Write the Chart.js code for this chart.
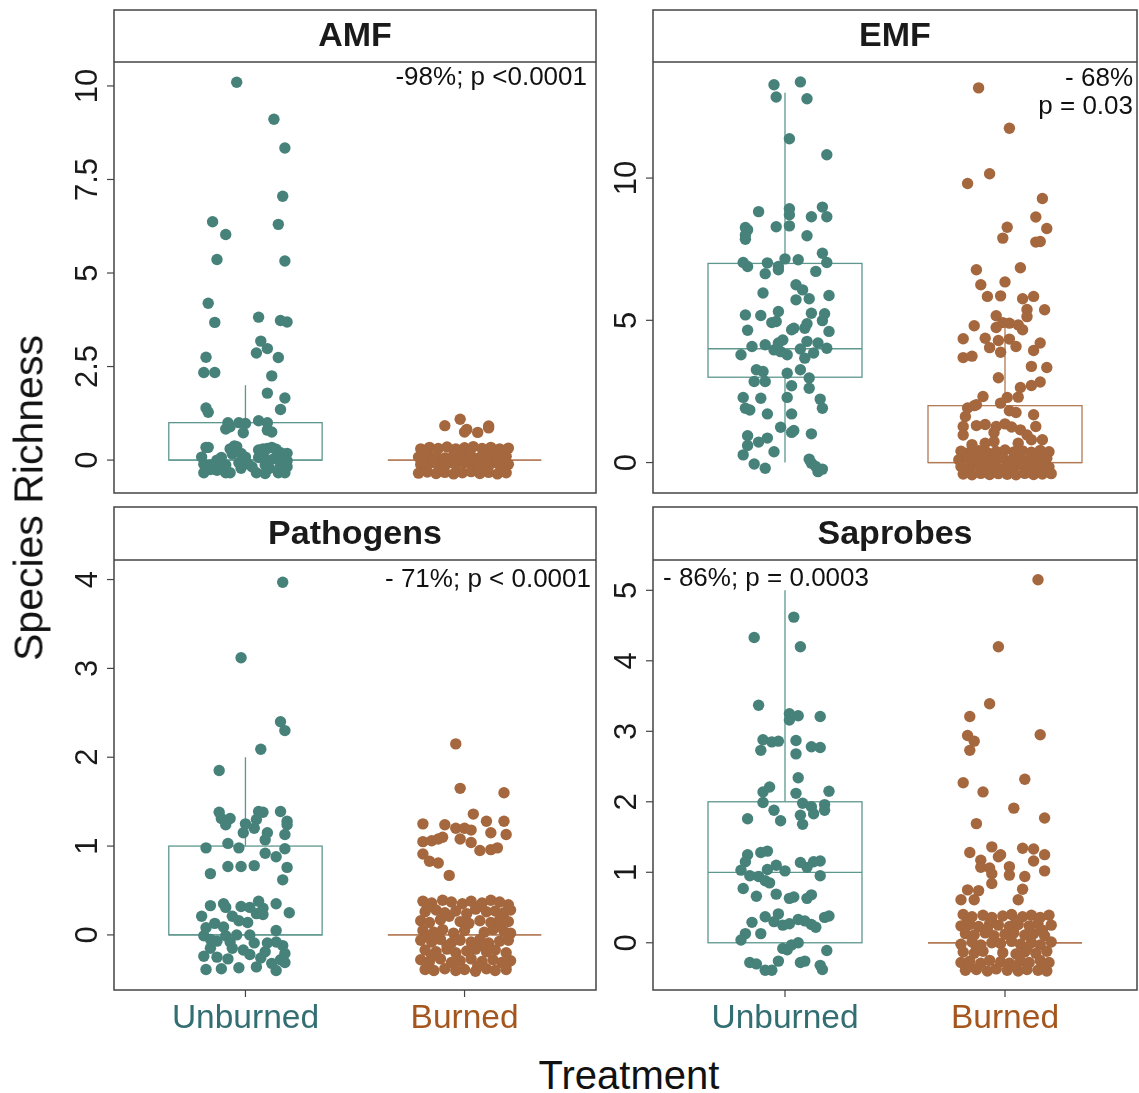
<!DOCTYPE html>
<html>
<head>
<meta charset="utf-8">
<script src="https://cdn.jsdelivr.net/npm/chart.js@4.4.1/dist/chart.umd.min.js"></script>
<style>
  body{margin:0;background:#fff;width:1139px;height:1093px;position:relative;overflow:hidden;font-family:"Liberation Sans",Arial,sans-serif;color:#111}
  canvas{position:absolute}
  #ylab{position:absolute;left:29px;top:498px;transform:translate(-50%,-50%) rotate(-90deg);font-size:41px;white-space:nowrap}
  #xlab{position:absolute;left:629px;top:1075px;transform:translate(-50%,-50%);font-size:40px;white-space:nowrap}
</style>
</head>
<body>
<canvas id="amf" width="550" height="500" style="left:50px;top:0"></canvas>
<canvas id="emf" width="539" height="500" style="left:600px;top:0"></canvas>
<canvas id="path" width="550" height="545" style="left:50px;top:500px"></canvas>
<canvas id="sap" width="539" height="545" style="left:600px;top:500px"></canvas>
<div id="ylab">Species Richness</div>
<div id="xlab">Treatment</div>
<script>
const treatments = ["Unburned", "Burned"];
const pointColors = ["#47827a", "#a5673e"];
const boxColors = ["#5e978e", "#b27a55"];
const labelColors = ["#326e72", "#a4561e"];

// box stats: [lower whisker, q1, median, q3, upper whisker]
const amfStats = [[0, 0, 0, 1, 2], [0, 0, 0, 0, 0]];
const emfStats = [[0, 3, 4, 7, 13], [0, 0, 0, 2, 5]];
const pathStats = [[0, 0, 0, 1, 2], [0, 0, 0, 0, 0]];
const sapStats = [[0, 0, 1, 2, 5], [0, 0, 0, 0, 0]];

const amfTicks = [0, 2.5, 5, 7.5, 10];
const emfTicks = [0, 5, 10];
const pathTicks = [0, 1, 2, 3, 4];
const sapTicks = [0, 1, 2, 3, 4, 5];

const amfRange = [-0.88, 10.64];
const emfRange = [-1.07, 14.08];
const pathRange = [-0.62, 4.22];
const sapRange = [-0.67, 5.43];

// jittered points: [x offset from category, y]
const amfUnburned = [
  [-0.04,10.1],[0.13,9.11],[0.18,8.34],[0.17,7.05],[-0.15,6.37],[0.15,6.30],[-0.09,6.03],[-0.13,5.36],[0.18,5.32],
  [-0.17,4.19],[0.06,3.82],[-0.14,3.68],[0.16,3.73],[0.19,3.69],[0.07,3.18],[0.10,2.98],[-0.18,2.75],[0.05,2.86],
  [0.15,2.74],[-0.19,2.34],[-0.14,2.34],[0.12,2.25],[0.10,1.79],[0.18,1.66],[-0.18,1.39],[-0.17,1.28],[0.16,1.35],
  [-0.08,1.0],[-0.09,0.83],[-0.03,1.0],[0.0,0.98],[-0.01,0.73],[0.06,1.05],[0.10,1.0],[0.10,0.80],[0.12,0.75],[-0.07,0.89],
  [-0.18,0.34],[-0.17,0.34],[-0.20,0.08],[-0.19,-0.11],[-0.19,-0.34],[-0.16,-0.25],[-0.13,-0.13],[-0.09,-0.34],
  [-0.07,-0.34],[-0.11,0.07],[-0.07,0.30],[-0.05,0.38],[-0.04,0.36],[-0.06,0.16],[-0.02,0.18],[0.00,0.08],
  [-0.03,-0.07],[0.01,-0.09],[0.03,-0.18],[0.05,-0.34],[0.06,0.27],[0.08,0.30],[0.10,0.31],[0.12,0.34],[0.14,0.29],
  [0.16,0.20],[0.19,0.18],[0.06,0.07],[0.09,0.04],[0.13,0.04],[0.17,0.00],[0.19,-0.02],[0.09,-0.13],[0.11,-0.22],
  [0.15,-0.34],[0.18,-0.34],[0.19,-0.18],[0.16,-0.16],[-0.16,-0.13],[-0.13,-0.27],[-0.02,-0.22],[0.09,-0.36],
  [-0.13,0.0],[-0.09,-0.13]
];
const amfBurned = [
  [-0.09,0.92],[-0.02,1.09],[0.01,0.82],[0.06,0.74],[0.11,0.91],[0.11,0.86],[0.0,0.75],
  [-0.20,0.30],[-0.16,0.34],[-0.12,0.31],[-0.08,0.35],[-0.04,0.30],[0.00,0.33],[0.04,0.36],[0.08,0.31],[0.12,0.34],[0.16,0.30],[0.20,0.32],
  [-0.21,0.08],[-0.17,0.12],[-0.13,0.10],[-0.09,0.06],[-0.05,0.13],[-0.01,0.09],[0.03,0.11],[0.07,0.07],[0.11,0.12],[0.15,0.09],[0.19,0.10],
  [-0.20,-0.12],[-0.16,-0.09],[-0.12,-0.14],[-0.08,-0.10],[-0.04,-0.13],[0.00,-0.08],[0.04,-0.12],[0.08,-0.15],[0.12,-0.10],[0.16,-0.13],[0.20,-0.11],
  [-0.21,-0.35],[-0.17,-0.32],[-0.13,-0.36],[-0.09,-0.33],[-0.05,-0.37],[-0.01,-0.34],[0.03,-0.31],[0.07,-0.36],[0.11,-0.33],[0.15,-0.37],[0.19,-0.34],
  [-0.18,0.21],[-0.10,-0.22],[-0.02,0.20],[0.06,-0.24],[0.14,0.20],[-0.14,-0.01],[0.10,-0.01],[0.18,-0.23]
];

const emfUnburned = [
  [-0.05,13.28],[0.07,13.38],[-0.04,12.85],[0.10,12.79],[0.02,11.38],[0.19,10.82],[-0.12,8.82],[0.02,8.92],[0.02,8.71],
  [0.17,8.98],[0.12,8.64],[0.19,8.64],[-0.18,8.26],[-0.17,8.18],[-0.18,8.0],[-0.18,7.85],[-0.04,8.29],[0.02,8.32],
  [0.10,7.97],[0.17,7.36],[0.19,7.03],[-0.19,7.03],[-0.17,6.89],[-0.08,7.02],[-0.03,6.89],[0.0,7.16],[0.06,7.13],
  [-0.09,6.64],[-0.03,6.78],[0.14,6.72],[0.05,6.25],[0.08,6.07],[-0.10,5.96],[0.20,5.87],[0.05,5.72],[0.11,5.76],
  [-0.18,5.19],[-0.11,5.17],[-0.03,5.31],[0.12,5.25],[0.18,5.23],[-0.06,4.92],[-0.04,4.96],[0.10,4.88],[0.17,4.99],
  [0.20,4.61],[-0.17,4.65],[0.04,4.72],[0.03,4.67],[0.09,4.72],[-0.01,4.31],[-0.03,4.20],[-0.20,3.79],[-0.15,4.08],
  [-0.09,4.14],[-0.05,3.96],[-0.02,3.90],[0.01,3.79],[0.07,3.99],[0.10,4.26],[0.15,4.20],[0.19,4.02],[0.13,3.85],
  [0.09,3.67],[-0.13,3.26],[-0.10,3.20],[0.01,3.14],[0.07,3.26],[-0.14,2.85],[-0.09,2.85],[0.03,2.70],[0.11,2.97],
  [0.11,2.61],[-0.19,2.29],[-0.11,2.26],[0.01,2.29],[0.16,2.23],[0.17,1.91],[-0.18,1.91],[-0.16,1.85],[-0.08,1.71],
  [0.03,1.71],[-0.02,1.24],[0.03,1.06],[0.04,1.13],[0.12,1.01],[-0.17,0.94],[-0.08,0.86],[-0.12,0.72],[-0.17,0.60],
  [-0.05,0.38],[-0.19,0.27],[-0.14,-0.05],[-0.09,-0.20],[0.11,0.12],[0.12,-0.02],[0.15,-0.32],[0.17,-0.23],[0.14,-0.14]
];
const emfBurned = [
  [-0.12,13.17],[0.02,11.75],[-0.07,10.15],[-0.17,9.81],[0.17,9.28],[0.14,8.63],[0.19,8.23],[0.01,8.27],[-0.01,7.89],
  [0.14,7.75],[0.16,7.77],[-0.13,6.78],[0.07,6.85],[-0.11,6.25],[0.0,6.35],[-0.08,5.84],[-0.02,5.86],[0.08,5.76],
  [0.13,5.84],[0.10,5.38],[0.18,5.37],[-0.04,5.16],[0.10,5.13],[-0.14,4.81],[-0.04,4.75],[-0.01,4.92],[0.02,4.90],
  [0.06,4.84],[0.08,4.67],[-0.19,4.35],[-0.09,4.37],[-0.03,4.29],[0.02,4.34],[-0.07,4.04],[0.05,4.08],[-0.02,3.88],
  [0.13,3.94],[0.16,4.20],[-0.19,3.69],[-0.15,3.74],[0.12,3.38],[0.19,3.34],[-0.03,2.98],[0.16,2.83],[0.12,2.71],
  [0.07,2.64],[0.06,2.30],[-0.10,2.32],[0.01,2.29],[-0.14,2.00],[-0.17,1.92],[-0.13,2.03],[-0.02,2.09],[0.02,1.82],
  [0.05,1.76],[0.13,1.68],[-0.18,1.62],[-0.19,1.27],[-0.13,1.30],[-0.09,1.34],[-0.04,1.27],[0.0,1.36],[0.03,1.25],
  [0.07,1.15],[0.14,1.27],[-0.19,0.97],[-0.05,1.06],[0.10,0.97],[0.12,0.80],[0.17,0.80],[-0.15,0.63],[-0.09,0.68],
  [-0.05,0.74],[0.06,0.68],
  [-0.20,0.40],[-0.16,0.36],[-0.12,0.42],[-0.08,0.35],[-0.04,0.39],[0.00,0.44],[0.04,0.37],[0.08,0.41],[0.12,0.36],[0.16,0.43],[0.20,0.38],
  [-0.21,0.10],[-0.17,0.15],[-0.13,0.08],[-0.09,0.13],[-0.05,0.11],[-0.01,0.16],[0.03,0.09],[0.07,0.14],[0.11,0.10],[0.15,0.12],[0.19,0.15],
  [-0.20,-0.14],[-0.16,-0.18],[-0.12,-0.12],[-0.08,-0.16],[-0.04,-0.13],[0.00,-0.19],[0.04,-0.15],[0.08,-0.11],[0.12,-0.17],[0.16,-0.14],[0.20,-0.16],
  [-0.19,-0.40],[-0.15,-0.43],[-0.11,-0.38],[-0.07,-0.42],[-0.03,-0.39],[0.01,-0.41],[0.05,-0.43],[0.09,-0.38],[0.13,-0.42],[0.17,-0.40],[0.21,-0.39]
];

const pathUnburned = [
  [0.17,3.97],[-0.02,3.12],[0.16,2.40],[0.18,2.30],[0.07,2.09],[-0.12,1.85],[-0.12,1.38],[-0.11,1.31],[-0.07,1.31],
  [-0.09,1.24],[0.0,1.25],[-0.01,1.15],[0.06,1.39],[0.08,1.38],[0.16,1.39],[0.05,1.30],[0.04,1.20],[0.10,1.15],
  [0.09,1.07],[0.19,1.28],[0.19,1.24],[0.18,1.13],[-0.18,0.98],[-0.08,1.03],[-0.03,0.98],[0.18,0.97],[0.09,0.92],
  [0.14,0.88],[-0.16,0.69],[-0.08,0.77],[-0.02,0.77],[0.04,0.78],[0.19,0.76],[0.17,0.62],
  [-0.16,0.33],[-0.10,0.35],[-0.09,0.31],[-0.02,0.32],[0.02,0.31],[0.06,0.38],[0.08,0.30],[0.14,0.35],[0.20,0.25],
  [-0.20,0.21],[-0.18,0.08],[-0.14,0.13],[-0.10,0.09],[-0.06,0.21],[-0.03,0.16],[0.01,0.14],[0.05,0.24],[0.08,0.23],
  [-0.19,-0.01],[-0.16,-0.05],[-0.13,-0.07],[-0.09,-0.01],[-0.07,-0.08],[-0.04,0.0],[0.02,0.0],[0.14,0.05],[0.10,-0.09],
  [0.14,-0.08],[0.17,-0.12],[-0.19,-0.24],[-0.18,-0.39],[-0.13,-0.25],[-0.11,-0.38],[-0.08,-0.27],[-0.03,-0.37],
  [-0.01,-0.17],[0.02,-0.22],[0.05,-0.36],[0.07,-0.26],[0.09,-0.19],[0.12,-0.32],[0.14,-0.40],[0.16,-0.28],[0.18,-0.21],
  [0.18,-0.31],[-0.06,-0.15],[-0.16,-0.15],[0.04,-0.09]
];
const pathBurned = [
  [-0.04,2.15],[-0.02,1.65],[0.18,1.60],[0.04,1.36],[-0.19,1.25],[-0.09,1.24],[0.10,1.28],[0.18,1.28],[-0.04,1.20],
  [0.0,1.20],[0.03,1.18],[0.12,1.15],[0.19,1.13],[-0.19,1.05],[-0.15,1.06],[-0.12,1.08],[-0.10,1.10],[-0.02,1.08],
  [0.03,1.04],[0.07,0.95],[0.12,0.96],[0.15,0.98],[-0.19,0.91],[-0.16,0.83],[-0.12,0.81],[-0.07,0.67],
  [-0.19,0.38],[-0.15,0.36],[-0.10,0.39],[-0.06,0.37],[-0.01,0.35],[0.03,0.38],[0.08,0.36],[0.12,0.39],[0.16,0.37],[0.20,0.34],
  [-0.18,0.26],[-0.13,0.28],[-0.09,0.25],[-0.04,0.27],[0.01,0.24],[0.05,0.29],[0.10,0.26],[0.14,0.27],[0.18,0.25],[0.21,0.28],
  [-0.20,0.16],[-0.16,0.14],[-0.11,0.17],[-0.02,0.15],[0.02,0.13],[0.07,0.16],[0.12,0.14],[0.16,0.17],[0.20,0.15],
  [-0.19,0.05],[-0.14,0.03],[-0.10,0.06],[-0.05,0.02],[0.00,0.05],[0.09,0.03],[0.13,0.06],[0.18,0.04],[0.21,0.02],
  [-0.20,-0.06],[-0.15,-0.08],[-0.11,-0.05],[-0.06,-0.09],[-0.02,-0.06],[0.03,-0.08],[0.07,-0.05],[0.11,-0.09],[0.16,-0.07],[0.20,-0.06],
  [-0.18,-0.17],[-0.13,-0.19],[-0.08,-0.16],[-0.04,-0.20],[0.01,-0.18],[0.05,-0.16],[0.10,-0.19],[0.14,-0.17],[0.19,-0.20],
  [-0.20,-0.28],[-0.16,-0.30],[-0.11,-0.27],[-0.06,-0.31],[-0.02,-0.29],[0.03,-0.27],[0.08,-0.30],[0.13,-0.28],[0.17,-0.31],[0.21,-0.29],
  [-0.18,-0.39],[-0.14,-0.40],[-0.09,-0.38],[-0.04,-0.40],[0.00,-0.39],[0.05,-0.41],[0.10,-0.38],[0.14,-0.40],[0.19,-0.39],
  [-0.17,0.31],[-0.07,0.21],[0.07,0.32],[0.16,0.10],[-0.17,-0.01],[-0.08,-0.12],[0.09,-0.13],[-0.15,-0.23],[0.06,-0.35],[0.19,-0.34]
];

const sapUnburned = [
  [0.04,4.62],[-0.14,4.33],[0.07,4.20],[-0.12,3.37],[0.02,3.25],[0.02,3.16],[0.06,3.22],[0.16,3.21],[-0.10,2.88],
  [-0.06,2.85],[-0.03,2.86],[0.05,2.87],[0.12,2.78],[0.16,2.77],[-0.11,2.73],[0.05,2.68],[0.06,2.34],[-0.07,2.21],
  [-0.10,2.14],[0.05,2.12],[0.20,2.15],[-0.10,1.99],[0.08,1.98],[0.12,1.93],[0.18,1.96],[0.18,1.88],[-0.05,1.88],
  [0.07,1.81],[0.13,1.83],[-0.17,1.76],[-0.02,1.73],[0.08,1.68],[-0.08,1.30],[-0.11,1.28],[-0.17,1.25],[-0.18,1.15],
  [-0.20,1.03],[-0.16,0.95],[-0.12,0.94],[-0.08,1.04],[-0.04,1.10],[0.0,1.02],[-0.07,0.85],[-0.09,0.88],[0.07,1.14],
  [0.10,1.07],[0.13,1.15],[0.16,1.16],[0.16,0.95],[-0.19,0.77],[-0.13,0.66],[-0.04,0.69],[0.02,0.63],[0.04,0.65],
  [0.10,0.63],[0.12,0.68],[-0.15,0.29],[-0.09,0.37],[-0.03,0.41],[-0.01,0.25],[0.02,0.27],[0.06,0.33],[0.09,0.31],
  [0.12,0.26],[0.14,0.22],[0.18,0.36],[0.20,0.38],[-0.18,0.13],[-0.20,0.04],[-0.11,0.13],[-0.05,0.30],[-0.01,-0.08],
  [0.03,-0.03],[0.06,0.0],[0.19,-0.11],[-0.16,-0.28],[-0.13,-0.30],[-0.09,-0.39],[-0.06,-0.39],[-0.03,-0.26],
  [0.07,-0.28],[0.09,-0.26],[0.16,-0.32],[0.17,-0.38],[0.01,-0.10]
];
const sapBurned = [
  [0.15,5.15],[-0.03,4.20],[-0.07,3.39],[-0.16,3.21],[-0.17,2.94],[-0.14,2.86],[-0.16,2.73],[0.16,2.95],[-0.19,2.27],
  [0.09,2.32],[-0.10,2.14],[0.04,1.91],[0.18,1.77],[-0.13,1.69],[-0.06,1.36],[-0.16,1.28],[-0.03,1.22],[-0.02,1.25],
  [0.08,1.34],[0.13,1.33],[0.18,1.25],[0.13,1.16],[-0.11,1.17],[-0.11,1.07],[-0.07,1.06],[0.02,1.08],[0.18,1.02],
  [-0.06,0.98],[0.02,0.96],[0.09,0.94],[-0.06,0.84],[-0.17,0.75],[-0.12,0.74],[0.08,0.76],[-0.20,0.61],[-0.14,0.61],[0.06,0.61],
  [-0.19,0.40],[-0.15,0.37],[-0.10,0.39],[-0.06,0.36],[-0.01,0.38],[0.03,0.40],[0.08,0.37],[0.12,0.39],[0.16,0.36],[0.20,0.39],
  [-0.20,0.24],[-0.16,0.26],[-0.12,0.23],[-0.07,0.27],[-0.03,0.25],[0.02,0.23],[0.06,0.26],[0.11,0.24],[0.15,0.27],[0.21,0.25],
  [-0.18,0.13],[-0.14,0.11],[-0.09,0.14],[-0.05,0.10],[0.00,0.12],[0.04,0.14],[0.09,0.11],[0.13,0.13],[0.18,0.10],
  [-0.20,-0.02],[-0.15,0.01],[-0.11,-0.03],[-0.06,0.00],[-0.02,-0.01],[0.03,0.02],[0.07,-0.02],[0.12,0.00],[0.16,-0.03],[0.21,0.01],
  [-0.19,-0.13],[-0.14,-0.15],[-0.10,-0.12],[-0.01,-0.14],[0.05,-0.16],[0.09,-0.13],[0.14,-0.15],[0.19,-0.12],
  [-0.20,-0.28],[-0.16,-0.26],[-0.11,-0.29],[-0.07,-0.25],[-0.02,-0.27],[0.02,-0.29],[0.07,-0.26],[0.11,-0.28],[0.16,-0.25],[0.20,-0.28],
  [-0.18,-0.39],[-0.13,-0.38],[-0.08,-0.40],[-0.04,-0.37],[0.01,-0.39],[0.06,-0.40],[0.10,-0.38],[0.15,-0.39],[0.19,-0.40],
  [-0.17,0.32],[-0.08,0.19],[0.05,0.31],[0.17,0.18],[-0.13,-0.07],[0.10,-0.07],[-0.16,-0.34],[0.04,-0.33],[0.18,-0.33]
];

const FONT = '"Liberation Sans", Arial, sans-serif';

function toPoints(pos, arr){ return arr.map(d => ({ x: pos + d[0], y: d[1] })); }
function tickLabel(v){ return String(v); }

function facetPlugin(cfg){
  return {
    id: "facet",
    beforeDatasetsDraw(chart){
      const { ctx, scales: { x, y } } = chart;
      cfg.stats.forEach((s, i) => {
        const pos = i + 1;
        const xc = x.getPixelForValue(pos);
        const x0 = x.getPixelForValue(pos - 0.35), x1 = x.getPixelForValue(pos + 0.35);
        const yq1 = y.getPixelForValue(s[1]), yq3 = y.getPixelForValue(s[3]), ym = y.getPixelForValue(s[2]);
        ctx.save();
        ctx.strokeStyle = boxColors[i];
        ctx.lineWidth = 1.3;
        ctx.beginPath();
        ctx.moveTo(xc, y.getPixelForValue(s[0])); ctx.lineTo(xc, yq1);
        ctx.moveTo(xc, yq3); ctx.lineTo(xc, y.getPixelForValue(s[4]));
        ctx.moveTo(x0, ym); ctx.lineTo(x1, ym);
        ctx.stroke();
        ctx.strokeRect(x0, yq3, x1 - x0, yq1 - yq3);
        ctx.restore();
      });
    },
    afterDraw(chart){
      const { ctx, chartArea: a, scales: { x, y } } = chart;
      ctx.save();
      // strip + panel border
      const stripTop = a.top - cfg.strip;
      ctx.strokeStyle = "#444";
      ctx.lineWidth = 1.5;
      ctx.strokeRect(a.left, stripTop, a.right - a.left, a.bottom - stripTop);
      ctx.beginPath(); ctx.moveTo(a.left, a.top); ctx.lineTo(a.right, a.top); ctx.stroke();
      ctx.fillStyle = "#1a1a1a";
      ctx.font = "bold 34px " + FONT;
      ctx.textAlign = "center"; ctx.textBaseline = "middle";
      ctx.fillText(cfg.title, (a.left + a.right) / 2, stripTop + cfg.strip / 2 + 1);
      // y ticks, rotated labels
      ctx.strokeStyle = "#444"; ctx.lineWidth = 1.2;
      ctx.font = "31px " + FONT;
      ctx.fillStyle = "#1a1a1a";
      cfg.ticks.forEach(v => {
        const py = y.getPixelForValue(v);
        ctx.beginPath(); ctx.moveTo(a.left - 7, py); ctx.lineTo(a.left, py); ctx.stroke();
        ctx.save();
        ctx.translate(a.left - 17, py);
        ctx.rotate(-Math.PI / 2);
        ctx.textAlign = "center"; ctx.textBaseline = "alphabetic";
        ctx.fillText(tickLabel(v), 0, 0);
        ctx.restore();
      });
      // x axis (bottom row only)
      if (cfg.xAxis){
        treatments.forEach((t, i) => {
          const px = x.getPixelForValue(i + 1);
          ctx.beginPath(); ctx.moveTo(px, a.bottom); ctx.lineTo(px, a.bottom + 7); ctx.stroke();
          ctx.fillStyle = labelColors[i];
          ctx.font = "33.5px " + FONT;
          ctx.textAlign = "center"; ctx.textBaseline = "alphabetic";
          ctx.fillText(t, px, a.bottom + 38);
        });
      }
      // annotation
      ctx.fillStyle = "#111";
      ctx.font = "26px " + FONT;
      ctx.textBaseline = "alphabetic";
      cfg.notes.forEach(n => {
        ctx.textAlign = n.align;
        const px = n.align === "right" ? a.right - n.dx : a.left + n.dx;
        ctx.fillText(n.text, px, a.top + n.dy);
      });
      ctx.restore();
    }
  };
}

function makePanel(id, cfg){
  new Chart(document.getElementById(id), {
    type: "scatter",
    data: {
      datasets: cfg.points.map((arr, i) => ({
        data: toPoints(i + 1, arr),
        backgroundColor: pointColors[i],
        borderWidth: 0,
        pointRadius: 5.7,
        pointHoverRadius: 5.7
      }))
    },
    options: {
      responsive: false,
      animation: false,
      events: [],
      layout: { padding: cfg.pad, autoPadding: false },
      plugins: { legend: { display: false }, tooltip: { enabled: false } },
      scales: {
        x: { type: "linear", min: 0.4, max: 2.6, display: false },
        y: { type: "linear", min: cfg.range[0], max: cfg.range[1], display: false }
      }
    },
    plugins: [facetPlugin(cfg)]
  });
}

makePanel("amf", {
  title: "AMF", points: [amfUnburned, amfBurned], stats: amfStats, ticks: amfTicks, range: amfRange,
  pad: { left: 64, top: 62, right: 4, bottom: 7 }, strip: 52, xAxis: false,
  notes: [{ text: "-98%; p <0.0001", align: "right", dx: 9, dy: 23 }]
});
makePanel("emf", {
  title: "EMF", points: [emfUnburned, emfBurned], stats: emfStats, ticks: emfTicks, range: emfRange,
  pad: { left: 53, top: 62, right: 2, bottom: 7 }, strip: 52, xAxis: false,
  notes: [{ text: "- 68%", align: "right", dx: 4, dy: 24 }, { text: "p = 0.03", align: "right", dx: 4, dy: 52 }]
});
makePanel("path", {
  title: "Pathogens", points: [pathUnburned, pathBurned], stats: pathStats, ticks: pathTicks, range: pathRange,
  pad: { left: 64, top: 60, right: 4, bottom: 55 }, strip: 53, xAxis: true,
  notes: [{ text: "- 71%; p < 0.0001", align: "right", dx: 5, dy: 27 }]
});
makePanel("sap", {
  title: "Saprobes", points: [sapUnburned, sapBurned], stats: sapStats, ticks: sapTicks, range: sapRange,
  pad: { left: 53, top: 60, right: 2, bottom: 55 }, strip: 53, xAxis: true,
  notes: [{ text: "- 86%; p = 0.0003", align: "left", dx: 10, dy: 26 }]
});
</script>
</body>
</html>
